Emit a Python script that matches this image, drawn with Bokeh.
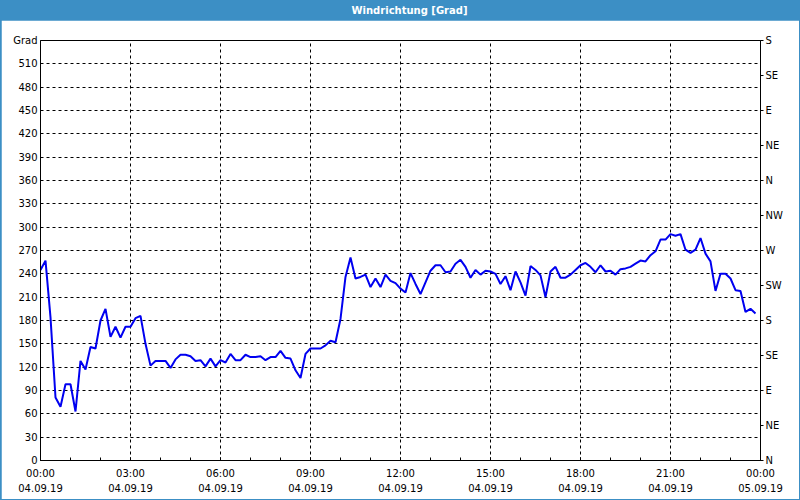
import numpy as np
from bokeh.plotting import figure
from bokeh.models import FixedTicker, LinearAxis, Range1d
from bokeh.layouts import column
from bokeh.embed import file_html
from bokeh.resources import INLINE
from bokeh.core.properties import value

TITLE = "Windrichtung [Grad]"
Y_UNIT = "Grad"

# wind direction in degrees, one reading every 10 minutes, 04.09.19 00:00 .. 23:50
wind_dir = [
    245, 257, 184, 81, 69, 98, 98, 63, 128, 117, 146, 144, 180, 195, 159, 172, 158, 172,
    172, 183, 186, 150, 122, 128, 128, 128, 119, 130, 136, 136, 134, 128, 129, 121, 131, 121,
    129, 126, 137, 129, 129, 136, 133, 133, 134, 129, 133, 133, 141, 132, 131, 116, 106, 137,
    144, 144, 144, 148, 154, 152, 182, 236, 261, 234, 236, 239, 223, 234, 223, 239, 231, 228,
    221, 216, 241, 227, 214, 229, 244, 251, 251, 242, 243, 253, 258, 249, 235, 245, 239, 244,
    243, 240, 227, 237, 219, 243, 229, 212, 250, 245, 238, 210, 243, 249, 235, 235, 239, 245,
    251, 254, 249, 242, 251, 243, 244, 239, 246, 247, 249, 253, 257, 256, 264, 269, 284, 284,
    291, 289, 291, 271, 267, 271, 286, 266, 256, 218, 240, 240, 234, 219, 218, 191, 195, 189,
]
step_minutes = 10
hours = np.arange(len(wind_dir)) * step_minutes / 60.0

x_tick_hours = [0, 3, 6, 9, 12, 15, 18, 21, 24]
x_tick_times = ["00:00", "03:00", "06:00", "09:00", "12:00", "15:00", "18:00", "21:00", "00:00"]
x_tick_dates = ["04.09.19"] * 8 + ["05.09.19"]
x_minor_hours = list(range(0, 25))
y_ticks = list(range(0, 511, 30))
y_top = 540
dir_ticks = list(range(0, 541, 45))
dir_labels = ["N", "NE", "E", "SE", "S", "SW", "W", "NW", "N", "NE", "E", "SE", "S"]

FONT = "DejaVu Sans"
BAR = "#3c8fc5"

# ---- title bar ----
head = figure(width=800, height=20, x_range=Range1d(0, 800), y_range=Range1d(0, 20),
              output_backend="svg", toolbar_location=None,
              x_axis_location=None, y_axis_location=None, min_border=0)
head.grid.visible = False
head.outline_line_color = None
head.background_fill_color = BAR
head.border_fill_color = BAR
head.text(x=[410], y=[10], text=[TITLE], text_align="center", text_baseline="middle",
          text_color="white", text_font=value(FONT), text_font_style="bold",
          text_font_size="10px")

# ---- main chart ----
p = figure(width=798, height=479, x_range=Range1d(0, 24), y_range=Range1d(0, y_top),
           output_backend="svg", toolbar_location=None,
           min_border_left=39, min_border_right=39, min_border_top=20, min_border_bottom=39,
           margin=(0, 1, 1, 1))
p.background_fill_color = "white"
p.border_fill_color = "white"
p.outline_line_color = "black"
p.outline_line_width = 1

xt = FixedTicker(ticks=x_tick_hours, minor_ticks=x_minor_hours)
xa = p.xaxis[0]
xa.ticker = xt
xa.major_label_overrides = {h: f"{t}\n{d}" for h, t, d in zip(x_tick_hours, x_tick_times, x_tick_dates)}
xa.major_tick_in = 3
xa.major_tick_out = 0
xa.minor_tick_in = 3
xa.minor_tick_out = 0
xa.major_tick_line_color = "black"
xa.minor_tick_line_color = "black"
xa.axis_line_color = "black"
xa.major_label_text_font = FONT
xa.major_label_text_font_size = "10px"
xa.major_label_text_color = "black"
xa.major_label_text_line_height = 1.4
xa.major_label_standoff = 7

yt = FixedTicker(ticks=y_ticks, minor_ticks=[])
ya = p.yaxis[0]
ya.ticker = FixedTicker(ticks=y_ticks + [y_top], minor_ticks=[])
ya.major_label_overrides = {y_top: Y_UNIT}
ya.major_tick_in = 0
ya.major_tick_out = 0
ya.minor_tick_in = 0
ya.minor_tick_out = 0
ya.axis_line_color = "black"
ya.major_label_text_font = FONT
ya.major_label_text_font_size = "10px"
ya.major_label_text_color = "black"
ya.major_label_standoff = 3

ra = LinearAxis(ticker=FixedTicker(ticks=dir_ticks, minor_ticks=[]),
                major_label_overrides={t: l for t, l in zip(dir_ticks, dir_labels)})
ra.major_tick_in = 0
ra.major_tick_out = 3
ra.minor_tick_in = 0
ra.minor_tick_out = 0
ra.major_tick_line_color = "black"
ra.axis_line_color = "black"
ra.major_label_text_font = FONT
ra.major_label_text_font_size = "10px"
ra.major_label_text_color = "black"
ra.major_label_standoff = 2
p.add_layout(ra, "right")

p.xgrid.ticker = xt
p.ygrid.ticker = yt
for g in (p.xgrid, p.ygrid):
    g.grid_line_color = "black"
    g.grid_line_dash = "3 3"
    g.grid_line_width = 1
    g.grid_line_alpha = 1.0

p.line(hours, wind_dir, line_color="#0000f0", line_width=2)

layout = column(head, p, spacing=0, styles={"background-color": BAR})

open("out.html", "w").write(file_html(layout, INLINE))
